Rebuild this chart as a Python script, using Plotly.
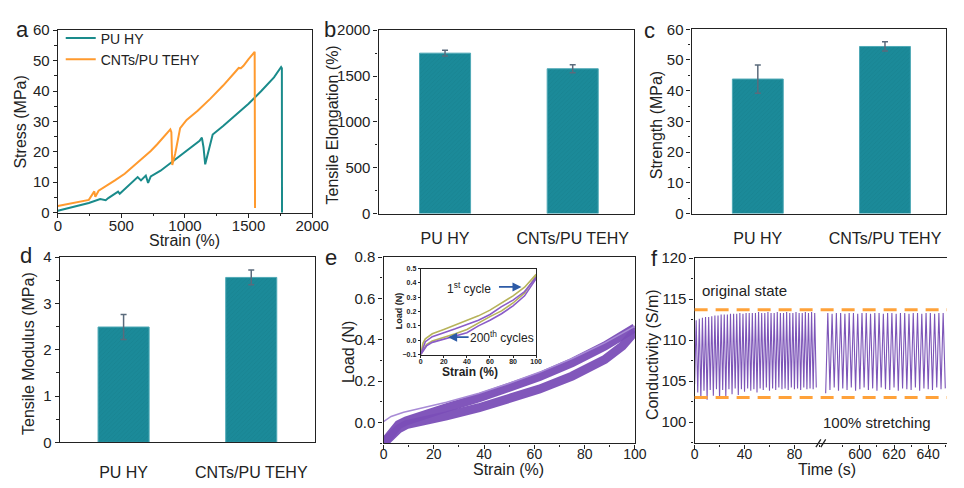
import plotly.graph_objects as go

# ---------------- data ----------------
# (a) stress-strain curves
pu_strain = [0, 140, 244, 333, 377, 397, 474, 487, 551, 628, 654, 692, 710, 731, 808, 900, 1000,
             1115, 1133, 1146, 1159, 1179, 1218, 1300, 1400, 1500, 1600, 1700, 1756, 1762, 1763]
pu_stress = [0.6, 2.1, 3.2, 4.5, 4.1, 4.8, 6.9, 6.2, 8.7, 11.7, 10.6, 12.2, 9.8, 11.9, 13.8, 16.8, 19.8,
             23.6, 24.7, 21.5, 15.9, 19.4, 25.7, 28.5, 32.0, 35.8, 40.0, 44.5, 47.9, 47.5, 0.0]
cnt_strain = [0, 141, 244, 287, 295, 321, 372, 449, 526, 628, 731, 782, 885, 893, 900, 923, 962, 1013,
              1100, 1200, 1300, 1400, 1423, 1440, 1460, 1500, 1538, 1548, 1551]
cnt_stress = [2.2, 3.3, 4.2, 7.0, 5.2, 7.2, 8.5, 10.6, 12.8, 16.5, 20.3, 22.5, 27.4, 26.5, 15.7, 19.4, 27.8, 30.5,
              33.5, 37.5, 41.8, 46.5, 47.6, 47.5, 48.3, 50.5, 52.7, 52.9, 1.5]

# (b)(c)(d) bar data
samples = ["PU HY", "CNTs/PU TEHY"]
elongation = [1750, 1580]
elongation_err = [32, 44]
strength = [43.8, 54.4]
strength_err = [4.6, 1.5]
modulus = [2.49, 3.56]
modulus_err = [0.27, 0.16]

# (e) cyclic loading
first_strain = [0, 3, 8, 15, 25, 38, 50, 62, 75, 88, 100]
first_load = [0.005, 0.03, 0.05, 0.07, 0.098, 0.142, 0.19, 0.243, 0.31, 0.385, 0.466]
load_strain = [0, 2, 4, 6, 9, 15, 25, 38, 50, 62, 75, 88, 100]
load_load = [-0.1, -0.07, -0.04, -0.01, 0.008, 0.035, 0.072, 0.12, 0.17, 0.222, 0.29, 0.37, 0.458]
unload_strain = [100, 95, 88, 75, 62, 50, 38, 25, 15, 9, 6, 4, 2, 0]
unload_load = [0.44, 0.37, 0.305, 0.225, 0.162, 0.115, 0.072, 0.033, 0.008, -0.01, -0.03, -0.05, -0.08, -0.1]

# (e) inset: 1st and 200th cycles
in_strain_up = [0, 2, 4, 10, 20, 30, 40, 50, 60, 70, 80, 90, 100]
in_first_up = [-0.1, -0.02, 0.01, 0.045, 0.075, 0.105, 0.135, 0.17, 0.21, 0.26, 0.31, 0.37, 0.46]
in_last_up = [-0.1, -0.05, -0.01, 0.025, 0.05, 0.08, 0.11, 0.14, 0.18, 0.235, 0.28, 0.34, 0.44]
in_strain_down = [100, 90, 80, 70, 60, 50, 40, 30, 20, 10, 5, 2, 0]
in_first_down = [0.45, 0.33, 0.26, 0.205, 0.165, 0.12, 0.075, 0.045, 0.02, -0.005, -0.03, -0.07, -0.1]
in_last_down = [0.43, 0.31, 0.24, 0.185, 0.14, 0.10, 0.052, 0.03, 0.005, -0.015, -0.04, -0.08, -0.1]

# (f) conductivity during cyclic stretching
f_left_trough_t = [0, 2.5, 5, 7.5, 10, 12.5, 15, 17.5, 20, 22.5, 25, 27.5, 30, 32.5, 35, 37.5, 40, 42.5, 45, 47.5,
                   50, 52.5, 55, 57.5, 60, 62.5, 65, 67.5, 70, 72.5, 75, 77.5, 80, 82.5, 85, 87.5, 90, 92.5, 95, 97.5]
f_left_trough = [104.6, 103.6, 102.9, 103.8, 102.7, 103.9, 103.2, 104.0, 102.8, 103.9, 103.1, 104.0, 103.4, 104.1,
                 103.3, 104.0, 103.7, 104.1, 103.8, 104.0, 103.6, 104.1, 103.9, 104.2, 103.8, 104.1, 103.9, 104.2,
                 104.0, 104.1, 103.9, 104.2, 104.0, 104.1, 103.9, 104.2, 104.0, 104.1, 104.0, 104.2]
f_left_peak_t = [1.25, 3.75, 6.25, 8.75, 11.25, 13.75, 16.25, 18.75, 21.25, 23.75, 26.25, 28.75, 31.25, 33.75,
                 36.25, 38.75, 41.25, 43.75, 46.25, 48.75, 51.25, 53.75, 56.25, 58.75, 61.25, 63.75, 66.25, 68.75,
                 71.25, 73.75, 76.25, 78.75, 81.25, 83.75, 86.25, 88.75, 91.25, 93.75, 96.25]
f_left_peak = [112.4, 112.6, 112.7, 112.8, 112.8, 112.9, 113.0, 113.0, 113.1, 113.1, 113.1, 113.2, 113.2, 113.2,
               113.3, 113.2, 113.3, 113.3, 113.3, 113.3, 113.4, 113.3, 113.3, 113.4, 113.3, 113.3, 113.4, 113.3,
               113.3, 113.4, 113.3, 113.3, 113.4, 113.3, 113.3, 113.4, 113.3, 113.4, 113.3]
f_right_trough_t = [580, 582.5, 585, 587.5, 590, 592.5, 595, 597.5, 600, 602.5, 605, 607.5, 610, 612.5, 615, 617.5,
                    620, 622.5, 625, 627.5, 630, 632.5, 635, 637.5, 640, 642.5, 645, 647.5, 650]
f_right_trough = [103.5, 103.9, 104.2, 103.8, 104.1, 103.9, 104.2, 103.8, 104.0, 104.2, 103.9, 104.1, 103.8, 104.2,
                  104.0, 103.9, 104.2, 103.8, 104.1, 104.0, 103.9, 104.2, 103.8, 104.1, 104.0, 103.9, 104.2, 104.0, 104.1]
f_right_peak_t = [581.25, 583.75, 586.25, 588.75, 591.25, 593.75, 596.25, 598.75, 601.25, 603.75, 606.25, 608.75,
                  611.25, 613.75, 616.25, 618.75, 621.25, 623.75, 626.25, 628.75, 631.25, 633.75, 636.25, 638.75,
                  641.25, 643.75, 646.25, 648.75]
f_right_peak = [113.3, 113.2, 113.3, 113.3, 113.2, 113.3, 113.3, 113.2, 113.3, 113.3, 113.2, 113.3, 113.3, 113.2,
                113.3, 113.3, 113.2, 113.3, 113.3, 113.2, 113.3, 113.3, 113.2, 113.3, 113.3, 113.2, 113.3, 113.3]
f_left_ticks = [0, 40, 80]
f_right_ticks = [600, 620, 640]
original_level = 113.7
stretch_level = 103.0

# ---------------- styling helpers ----------------
W, H = 964, 488
FONT = "Arial, 'Liberation Sans', Helvetica, sans-serif"
INK = "#222222"
TEAL = "#1a8b8b"
ORANGE = "#ff9a2e"
BAR = "#1b8a99"
PURPLE = "#7b4fb8"


def dx(a, b):
    return [a / W, b / W]


def dy(top, bottom):
    return [1 - bottom / H, 1 - top / H]


def px(x):
    return x / W


def py(y):
    return 1 - y / H


def axis(**kw):
    base = dict(showline=True, linecolor=INK, linewidth=1.4, mirror=True, ticks="outside",
                ticklen=4, tickwidth=1.2, tickcolor=INK, showgrid=False, zeroline=False,
                tickfont=dict(size=15, color=INK, family=FONT))
    base.update(kw)
    return base


def interleave(t_tr, v_tr, t_pk, v_pk):
    tx, vy = [], []
    for i in range(len(t_tr)):
        tx.append(t_tr[i]); vy.append(v_tr[i])
        if i < len(t_pk):
            tx.append(t_pk[i]); vy.append(v_pk[i])
    return tx, vy


fig = go.Figure()

# (a)
fig.add_trace(go.Scatter(x=pu_strain, y=pu_stress, mode="lines", name="PU HY",
                         line=dict(color=TEAL, width=2), xaxis="x", yaxis="y"))
fig.add_trace(go.Scatter(x=cnt_strain, y=cnt_stress, mode="lines", name="CNTs/PU TEHY",
                         line=dict(color=ORANGE, width=2), xaxis="x", yaxis="y"))


# bars
def bar(vals, errs, xa, ya):
    return go.Bar(x=samples, y=vals, width=0.4, xaxis=xa, yaxis=ya, showlegend=False,
                  marker=dict(color=BAR, line=dict(color="#4fa9b6", width=1),
                              pattern=dict(shape="/", fgcolor="#167c89", bgcolor=BAR, size=3, solidity=0.25)),
                  error_y=dict(type="data", array=errs, color="#5b6b7c", thickness=1.5, width=3))


fig.add_trace(bar(elongation, elongation_err, "x2", "y2"))
fig.add_trace(bar(strength, strength_err, "x3", "y3"))
fig.add_trace(bar(modulus, modulus_err, "x4", "y4"))

# (e)
fig.add_trace(go.Scatter(x=load_strain, y=load_load, mode="lines", showlegend=False,
                         line=dict(color=PURPLE, width=9), opacity=0.95, xaxis="x5", yaxis="y5"))
fig.add_trace(go.Scatter(x=unload_strain, y=unload_load, mode="lines", showlegend=False,
                         line=dict(color=PURPLE, width=9), opacity=0.95, xaxis="x5", yaxis="y5"))
fig.add_trace(go.Scatter(x=first_strain, y=first_load, mode="lines", showlegend=False,
                         line=dict(color="#a88bd6", width=1.5), xaxis="x5", yaxis="y5"))

# (e) inset
YEL = "#b7b35a"
IPUR = "#8a5cc8"
for xs, ys, c in [(in_strain_up, in_first_up, YEL), (in_strain_down, in_first_down, YEL),
                  (in_strain_up, in_last_up, IPUR), (in_strain_down, in_last_down, IPUR)]:
    fig.add_trace(go.Scatter(x=xs, y=ys, mode="lines", showlegend=False,
                             line=dict(color=c, width=1.6), xaxis="x6", yaxis="y6"))

# (f)
lt, lv = interleave(f_left_trough_t, f_left_trough, f_left_peak_t, f_left_peak)
rt, rv = interleave(f_right_trough_t, f_right_trough, f_right_peak_t, f_right_peak)
fig.add_trace(go.Scatter(x=lt, y=lv, mode="lines", showlegend=False,
                         line=dict(color="#7d55b8", width=1.1), xaxis="x7", yaxis="y7"))
fig.add_trace(go.Scatter(x=rt, y=rv, mode="lines", showlegend=False,
                         line=dict(color="#7d55b8", width=1.1), xaxis="x8", yaxis="y7"))

cat_tick = dict(size=16, color=INK, family=FONT)
low_tick = dict(size=14, color=INK, family=FONT)
SO = -6  # pull numeric tick labels toward the axis

fig.update_layout(
    width=W, height=H, margin=dict(l=0, r=0, t=0, b=0),
    paper_bgcolor="white", plot_bgcolor="rgba(0,0,0,0)",
    font=dict(family=FONT, color=INK, size=15),
    showlegend=True,
    legend=dict(x=px(58), y=py(14), xanchor="left", yanchor="top", bgcolor="rgba(0,0,0,0)",
                font=dict(size=14, family=FONT, color=INK), itemwidth=30, tracegroupgap=0),
    bargap=0.5,
    xaxis=axis(domain=dx(55, 315), range=[0, 2000], anchor="y", dtick=500, ticklabelstandoff=-5,
               minor=dict(ticks="outside", ticklen=2.5, dtick=250, tickcolor=INK)),
    yaxis=axis(domain=dy(22, 211), range=[0, 60], anchor="x", dtick=10,
               minor=dict(ticks="outside", ticklen=2.5, dtick=5, tickcolor=INK)),
    xaxis2=axis(domain=dx(383, 644), range=[-0.52, 1.48], anchor="y2", ticks="", tickfont=cat_tick,
                ticklabelstandoff=10),
    yaxis2=axis(domain=dy(22, 212), range=[0, 2000], anchor="x2", dtick=500,
                minor=dict(ticks="outside", ticklen=2.5, dtick=250, tickcolor=INK)),
    xaxis3=axis(domain=dx(703, 963), range=[-0.52, 1.48], anchor="y3", ticks="", tickfont=cat_tick,
                ticklabelstandoff=10),
    yaxis3=axis(domain=dy(21, 212), range=[0, 60], anchor="x3", dtick=10,
                minor=dict(ticks="outside", ticklen=2.5, dtick=5, tickcolor=INK)),
    xaxis4=axis(domain=dx(57, 318), range=[-0.5, 1.5], anchor="y4", ticks="", tickfont=cat_tick,
                ticklabelstandoff=15),
    yaxis4=axis(domain=dy(257, 449), range=[0, 4], anchor="x4", dtick=1,
                minor=dict(ticks="outside", ticklen=2.5, dtick=0.5, tickcolor=INK)),
    xaxis5=axis(domain=dx(388, 645), range=[0, 100], anchor="y5", dtick=20, ticklabelstandoff=SO,
                tickfont=low_tick,
                minor=dict(ticks="outside", ticklen=2.5, dtick=10, tickcolor=INK)),
    yaxis5=axis(domain=dy(257, 450), range=[-0.1, 0.8], anchor="x5", dtick=0.2, tickformat=".1f",
                minor=dict(ticks="outside", ticklen=2.5, dtick=0.1, tickcolor=INK)),
    xaxis6=axis(domain=dx(426, 544), range=[0, 100], anchor="y6", dtick=20, ticklen=2, linewidth=1,
                ticklabelstandoff=-2,
                tickfont=dict(size=7, family=FONT, color=INK, weight="bold")),
    yaxis6=axis(domain=dy(269, 358), range=[-0.1, 0.5], anchor="x6", dtick=0.1, tickformat=".1f",
                ticklen=2, linewidth=1, tickfont=dict(size=7, family=FONT, color=INK, weight="bold")),
    xaxis7=axis(domain=dx(706, 837), range=[0, 102.7], anchor="y7", tickvals=f_left_ticks,
                ticklabelstandoff=SO, tickfont=low_tick,
                minor=dict(ticks="outside", ticklen=2.5, tickvals=[20, 60, 100], tickcolor=INK)),
    xaxis8=axis(domain=dx(837, 964), range=[578.3, 651], anchor="y7", tickvals=f_right_ticks,
                ticklabelstandoff=SO, tickfont=low_tick,
                minor=dict(ticks="outside", ticklen=2.5, tickvals=[590, 610, 630, 650], tickcolor=INK)),
    yaxis7=axis(domain=dy(258, 450), range=[97.4, 120], anchor="x7", dtick=5, mirror=False,
                minor=dict(ticks="outside", ticklen=2.5, dtick=2.5, tickcolor=INK)),
)

# dashed reference levels in (f)
for lvl in (original_level, stretch_level):
    fig.add_shape(type="line", xref="paper", yref="y7", x0=px(706), x1=1, y0=lvl, y1=lvl,
                  line=dict(color="#ffa23a", width=3, dash="13px,8px"))
# axis break marks
for off in (-4, 1):
    fig.add_shape(type="line", xref="paper", yref="paper", x0=px(834 + off), x1=px(839 + off),
                  y0=py(454), y1=py(446), line=dict(color=INK, width=1.3))

ann = []


def text(x, y, s, size=15, angle=0, xanchor="center", bold=False, color=INK, yanchor="middle"):
    ann.append(dict(x=px(x), y=py(y), xref="paper", yref="paper", text=s, showarrow=False,
                    textangle=angle, xanchor=xanchor, yanchor=yanchor,
                    font=dict(size=size, family=FONT, color=color, weight="bold" if bold else "normal")))


# panel letters
text(19, 21, "a", 22); text(333, 21, "b", 22); text(660, 22, "c", 22)
text(22, 255, "d", 22); text(334, 257, "e", 22); text(665, 259, "f", 22)
# axis titles
text(17, 117, "Stress (MPa)", 16, -90)
text(185, 240, "Strain (%)", 16)
text(336, 120, "Tensile Elongation (%)", 16, -90)
text(667, 120, "Strength (MPa)", 16, -90)
text(25, 357, "Tensile Modulus (MPa)", 16, -90)
text(352, 355, "Load (N)", 16, -90)
text(516, 488, "Strain (%)", 16, yanchor="bottom")
text(663, 358, "Conductivity (S/m)", 16, -90)
text(841, 488, "Time (s)", 16, yanchor="bottom")
# inset titles
text(476, 376, "Strain (%)", 12, bold=True)
text(404, 313, "Load (N)", 9, -90, bold=True)
text(475, 289, "1<sup>st</sup> cycle", 12)
text(509, 340, "200<sup>th</sup> cycles", 12)
# (f) labels
text(712, 292, "original state", 15, xanchor="left")
text(835, 428, "100% stretching", 15, xanchor="left")

# inset arrows
ann.append(dict(x=px(529), y=py(288), ax=-24, ay=0, xref="paper", yref="paper",
                axref="pixel", ayref="pixel", text="", showarrow=True, arrowhead=2, arrowsize=1,
                arrowwidth=1.8, arrowcolor="#2d5ba6"))
ann.append(dict(x=px(454), y=py(340), ax=22, ay=0, xref="paper", yref="paper",
                axref="pixel", ayref="pixel", text="", showarrow=True, arrowhead=2, arrowsize=1,
                arrowwidth=1.8, arrowcolor="#2d5ba6"))
fig.update_layout(annotations=ann)

fig.write_html("out.html")
